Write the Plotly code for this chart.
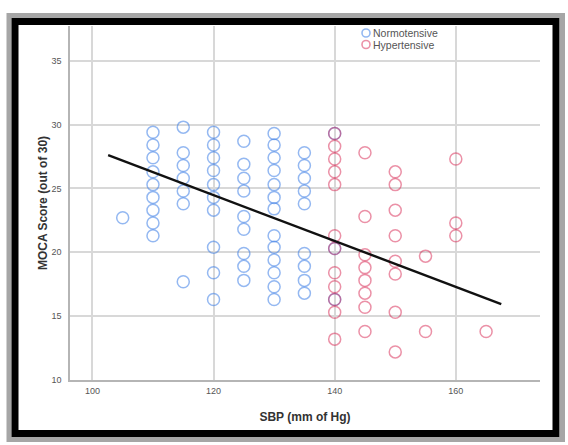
import plotly.graph_objects as go

# ---- data ----
norm_sbp = [105,
            110, 110, 110, 110, 110, 110, 110, 110, 110,
            115, 115, 115, 115, 115, 115, 115,
            120, 120, 120, 120, 120, 120, 120, 120, 120, 120,
            125, 125, 125, 125, 125, 125, 125, 125, 125,
            130, 130, 130, 130, 130, 130, 130, 130, 130, 130, 130, 130, 130,
            135, 135, 135, 135, 135, 135, 135, 135, 135,
            140, 140, 140]
norm_moca = [22.7,
             29.4, 28.4, 27.4, 26.3, 25.3, 24.3, 23.3, 22.3, 21.3,
             29.8, 27.8, 26.8, 25.8, 24.8, 23.8, 17.7,
             29.4, 28.4, 27.4, 26.4, 25.3, 24.3, 23.3, 20.4, 18.4, 16.3,
             28.7, 26.9, 25.8, 24.8, 22.8, 21.8, 19.9, 18.9, 17.8,
             29.3, 28.4, 27.4, 26.4, 25.3, 24.3, 23.4, 21.3, 20.4, 19.4, 18.4, 17.3, 16.3,
             27.8, 26.8, 25.8, 24.8, 23.8, 19.9, 18.9, 17.8, 16.8,
             29.3, 20.3, 16.3]

hyp_sbp = [140, 140, 140, 140, 140, 140, 140, 140, 140, 140, 140, 140,
           145, 145, 145, 145, 145, 145, 145, 145,
           150, 150, 150, 150, 150, 150, 150, 150,
           155, 155,
           160, 160, 160,
           165]
hyp_moca = [29.3, 28.3, 27.3, 26.3, 25.3, 21.3, 20.3, 18.4, 17.3, 16.3, 15.3, 13.2,
            27.8, 22.8, 19.8, 18.8, 17.8, 16.8, 15.7, 13.8,
            26.3, 25.3, 23.3, 21.3, 19.3, 18.3, 15.3, 12.2,
            19.7, 13.8,
            27.3, 22.3, 21.3,
            13.8]

fit_x = [102.6, 167.5]
fit_y = [27.6, 15.95]

x_ticks = [100, 120, 140, 160]
y_ticks = [10, 15, 20, 25, 30, 35]

legend_names = ["Normotensive", "Hypertensive"]
BLUE = "rgba(60,125,230,0.55)"
RED = "rgba(215,35,80,0.5)"
legend_colors = [BLUE, RED]

FONT = "Liberation Sans, Arial, sans-serif"

fig = go.Figure()
fig.add_trace(go.Scatter(
    x=norm_sbp, y=norm_moca, mode="markers", name=legend_names[0],
    marker=dict(symbol="circle-open", size=12, color=BLUE, line=dict(width=1.5)),
))
fig.add_trace(go.Scatter(
    x=hyp_sbp, y=hyp_moca, mode="markers", name=legend_names[1],
    marker=dict(symbol="circle-open", size=12, color=RED, line=dict(width=1.5)),
))
fig.add_trace(go.Scatter(
    x=fit_x, y=fit_y, mode="lines", showlegend=False,
    line=dict(color="#111111", width=2.4),
))

L, R, T, B = 70, 28, 26, 65
W, H = 568, 445
pw, ph = W - L - R, H - T - B


def px2paper_x(px):
    return (px - L) / pw


def px2paper_y(py):
    return (H - B - py) / ph


shapes = [
    dict(type="rect", xref="paper", yref="paper",
         x0=px2paper_x(9), x1=px2paper_x(562.5), y0=px2paper_y(439.5), y1=px2paper_y(15.5),
         line=dict(color="#a6a6a6", width=5), fillcolor="rgba(0,0,0,0)", layer="above"),
    dict(type="rect", xref="paper", yref="paper",
         x0=px2paper_x(15), x1=px2paper_x(556), y0=px2paper_y(433.5), y1=px2paper_y(21.5),
         line=dict(color="#000000", width=7), fillcolor="rgba(0,0,0,0)", layer="above"),
]

annotations = []
leg_rows = [33, 44.5]
for name, col, ry in zip(legend_names, legend_colors, leg_rows):
    r = 4
    shapes.append(dict(type="circle", xref="paper", yref="paper",
                       x0=px2paper_x(366 - r), x1=px2paper_x(366 + r),
                       y0=px2paper_y(ry + r), y1=px2paper_y(ry - r),
                       line=dict(color=col, width=1.6), fillcolor="rgba(0,0,0,0)"))
    annotations.append(dict(xref="paper", yref="paper", x=px2paper_x(370.5), y=px2paper_y(ry),
                            xanchor="left", yanchor="middle", showarrow=False, text=name,
                            font=dict(size=10.5, color="#555555", family=FONT)))

fig.update_layout(
    width=W, height=H,
    margin=dict(l=L, r=R, t=T, b=B, pad=0),
    paper_bgcolor="white", plot_bgcolor="white",
    font=dict(family=FONT, color="#444444"),
    showlegend=False,
    shapes=shapes,
    annotations=annotations,
)
fig.update_xaxes(
    range=[96.3, 173.9], tickvals=x_ticks, ticktext=[str(v) for v in x_ticks],
    showgrid=True, gridcolor="#d8d8d8", gridwidth=1.5,
    showline=True, linecolor="#b5b5b5", linewidth=1.5, zeroline=False,
    ticks="outside", ticklen=1, tickcolor="rgba(0,0,0,0)",
    tickfont=dict(size=9, color="#555555", family=FONT),
    title=dict(text="<b>SBP (mm of Hg)</b>", font=dict(size=12, color="#333333", family=FONT),
               standoff=18),
)
fig.update_yaxes(
    range=[10, 37.72], tickvals=y_ticks, ticktext=[str(v) for v in y_ticks],
    showgrid=True, gridcolor="#d8d8d8", gridwidth=1.5,
    showline=True, linecolor="#b5b5b5", linewidth=1.5, zeroline=False,
    ticks="outside", ticklen=5, tickcolor="rgba(0,0,0,0)",
    tickfont=dict(size=9, color="#555555", family=FONT),
    title=dict(text="<b>MOCA Score (out of 30)</b>", font=dict(size=12, color="#333333", family=FONT),
               standoff=1),
)

fig.write_html("out.html",
               config={"displayModeBar": False},
               post_script="document.body.style.margin='0';document.body.style.overflow='hidden';")
